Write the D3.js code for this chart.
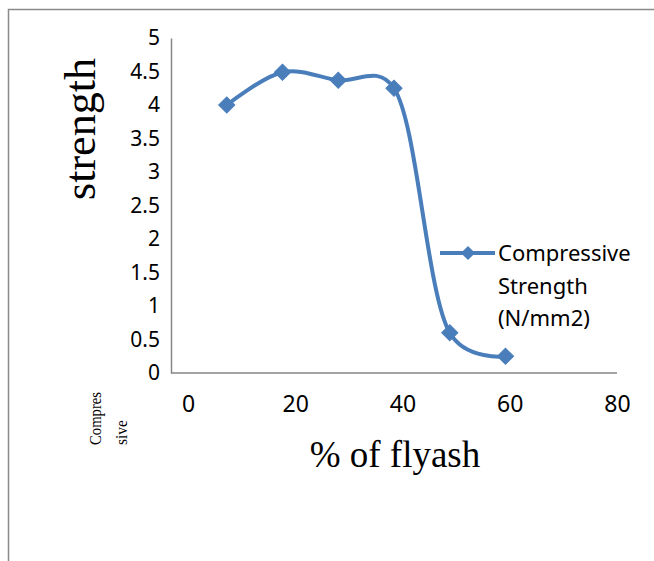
<!DOCTYPE html>
<html>
<head>
<meta charset="utf-8">
<script src="https://cdn.jsdelivr.net/npm/d3@7"></script>
<style>
  body { margin: 0; background: #fff; }
  svg { display: block; }
</style>
</head>
<body>
<div id="chart"></div>
<script>

//******************************************************************************
//**  Data
//******************************************************************************
var flyash = [10, 20, 30, 40, 50, 60];
var strength = [4.0, 4.49, 4.37, 4.25, 0.6, 0.25];
var xTicks = [0, 20, 40, 60, 80];
var yTicks = [0, 0.5, 1, 1.5, 2, 2.5, 3, 3.5, 4, 4.5, 5];
var seriesName = ["Compressive", "Strength", "(N/mm2)"];


//******************************************************************************
//**  Chart
//******************************************************************************
var width = 654, height = 561;
var blue = "#4a7ebb";
var grey = "#868686";

var svg = d3.select("#chart").append("svg")
    .attr("width", width)
    .attr("height", height);

svg.append("rect")
    .attr("width", width).attr("height", height)
    .attr("fill", "#fff");

//page frame (only top and left edges show)
svg.append("path")
    .attr("d", "M8.5," + height + "V9.5H" + width)
    .attr("fill", "none")
    .attr("stroke", "#8a8a8a")
    .attr("stroke-width", 1.5);

var x = d3.scaleLinear().domain([0, 80]).range([171, 617]);
var y = d3.scaleLinear().domain([0, 5]).range([373, 38]);

//labels on the x axis sit a little right of the ticks in the original
var xLab = d3.scaleLinear().domain([0, 80]).range([188, 617]);


//y axis
var yAxis = svg.append("g")
    .attr("transform", "translate(" + x(0) + ",0)")
    .call(d3.axisLeft(y).tickValues(yTicks).tickSize(0).tickPadding(11)
        .tickFormat(d3.format("")));
yAxis.select(".domain").attr("stroke", grey).attr("stroke-width", 1.5);
yAxis.selectAll("text")
    .attr("font-family", "'Noto Sans', sans-serif")
    .attr("font-size", 21)
    .attr("fill", "#000");


//x axis
var xAxis = svg.append("g")
    .attr("transform", "translate(0," + y(0) + ")")
    .call(d3.axisBottom(xLab).tickValues(xTicks).tickSize(0).tickPadding(23));
xAxis.select(".domain")
    .attr("d", "M" + x(0) + ",0H" + x(80))
    .attr("stroke", grey).attr("stroke-width", 1.5);
xAxis.selectAll("text")
    .attr("font-family", "'Noto Sans', sans-serif")
    .attr("font-size", 23)
    .attr("fill", "#000");


//axis titles
svg.append("text")
    .attr("transform", "translate(95,129) rotate(-90)")
    .attr("text-anchor", "middle")
    .attr("font-family", "'Liberation Serif', serif")
    .attr("font-size", 44)
    .text("strength");

svg.append("text")
    .attr("x", 395).attr("y", 467)
    .attr("text-anchor", "middle")
    .attr("font-family", "'Liberation Serif', serif")
    .attr("font-size", 37)
    .text("% of flyash");

var small = svg.append("text")
    .attr("transform", "translate(101,445) rotate(-90)")
    .attr("font-family", "'Liberation Serif', serif")
    .attr("font-size", 17);
small.append("tspan").attr("x", 0).attr("y", 0)
    .attr("textLength", 53).attr("lengthAdjust", "spacingAndGlyphs")
    .text("Compres");
small.append("tspan").attr("x", 0).attr("y", 26)
    .attr("textLength", 25).attr("lengthAdjust", "spacingAndGlyphs")
    .text("sive");


//series
var pts = flyash.map(function(d, i){ return [x(d), y(strength[i])]; });

svg.append("path")
    .attr("d", d3.line().curve(d3.curveCatmullRom.alpha(0.25))(pts))
    .attr("fill", "none")
    .attr("stroke", blue)
    .attr("stroke-width", 4)
    .attr("stroke-linejoin", "round");

var diamond = d3.symbol().type(d3.symbolSquare).size(130);

svg.selectAll(".marker")
    .data(pts)
    .enter().append("path")
    .attr("class", "marker")
    .attr("d", diamond)
    .attr("transform", function(p){
        return "translate(" + p[0] + "," + p[1] + ") rotate(45)";
    })
    .attr("fill", blue)
    .attr("stroke", blue)
    .attr("stroke-width", 1);


//legend
var legend = svg.append("g").attr("transform", "translate(440,253)");
legend.append("line")
    .attr("x1", 0).attr("x2", 55)
    .attr("stroke", blue).attr("stroke-width", 4);
legend.append("path")
    .attr("d", d3.symbol().type(d3.symbolSquare).size(100))
    .attr("transform", "translate(28,0) rotate(45)")
    .attr("fill", blue);

legend.selectAll(".item")
    .data(seriesName)
    .enter().append("text")
    .attr("x", 58)
    .attr("y", function(d, i){ return 8 + i * 32.5; })
    .attr("font-family", "'Noto Sans', sans-serif")
    .attr("font-size", 22)
    .attr("fill", "#000")
    .text(function(d){ return d; });

</script>
</body>
</html>
